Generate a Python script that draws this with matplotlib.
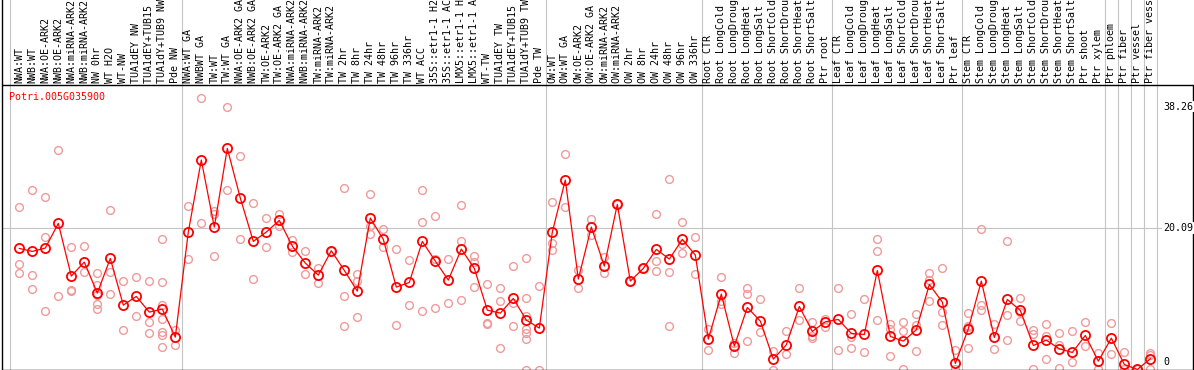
import matplotlib
matplotlib.use('Agg')
import matplotlib.pyplot as plt

gene = "Potri.005G035900"

labels = [
    "NWA:WT", "NWB:WT", "NWA:OE-ARK2", "NWB:OE-ARK2", "NWA:miRNA-ARK2", "NWB:miRNA-ARK2",
    "NW 0hr", "WT H2O", "WT-NW", "TUA1dEY NW", "TUA1dEY+TUB15 NW", "TUA1dY+TUB9 NW", "Pde NW",
    "NWA:WT GA", "NWBWT GA", "TW:WT", "TW:WT GA", "NWA:OE-ARK2 GA", "NWB:OE-ARK2 GA",
    "TW:OE-ARK2", "TW:OE-ARK2 GA", "NWA:miRNA-ARK2 GA", "NWB:miRNA-ARK2 GA", "TW:miRNA-ARK2",
    "TW:miRNA-ARK2 GA", "TW 2hr", "TW 8hr", "TW 24hr", "TW 48hr", "TW 96hr", "TW 336hr",
    "WT ACC", "35S::etr1-1 H2O", "35S::etr1-1 ACC", "LMX5::etr1-1 H2O", "LMX5::etr1-1 ACC",
    "WT-TW", "TUA1dEY TW", "TUA1dEY+TUB15 TW", "TUA1dY+TUB9 TW", "Pde TW",
    "OW:WT", "OW:WT GA", "OW:OE-ARK2", "OW:OE-ARK2 GA", "OW:miRNA-ARK2", "OW:miRNA-ARK2 GA",
    "OW 2hr", "OW 8hr", "OW 24hr", "OW 48hr", "OW 96hr", "OW 336hr",
    "Root CTR", "Root LongCold", "Root LongDrought", "Root LongHeat", "Root LongSalt",
    "Root ShortCold", "Root ShortDrought", "Root ShortHeat", "Root ShortSalt", "Ptr root",
    "Leaf CTR", "Leaf LongCold", "Leaf LongDrought", "Leaf LongHeat", "Leaf LongSalt",
    "Leaf ShortCold", "Leaf ShortDrought", "Leaf ShortHeat", "Leaf ShortSalt", "Ptr leaf",
    "Stem CTR", "Stem LongCold", "Stem LongDrought", "Stem LongHeat", "Stem LongSalt",
    "Stem ShortCold", "Stem ShortDrought", "Stem ShortHeat", "Stem ShortSalt", "Ptr shoot",
    "Ptr xylem", "Ptr phloem", "Ptr fiber", "Ptr vessel", "Ptr fiber vessel",
]

# mean expression per sample
means = [
    17.03, 16.58, 17.08, 20.78, 12.88, 14.98, 10.33, 15.53, 8.53, 9.83, 7.48, 7.93, 3.73,
    19.48, 30.28, 20.23, 32.03, 24.58, 18.08, 19.48, 21.23, 17.38, 14.83, 13.03, 16.68,
    13.73, 10.63, 21.58, 18.38, 11.23, 11.93, 18.08, 15.13, 12.28, 16.93, 14.03, 7.78,
    7.33, 9.53, 6.28, 5.08,
    19.48, 27.28, 12.43, 20.23, 14.38, 23.63, 12.13, 14.03, 16.88, 15.43, 18.38, 16.03,
    3.43, 10.18, 2.38, 8.18, 6.13, 0.43, 2.58, 8.33, 4.58, 6.03,
    6.38, 4.28, 4.13, 13.73, 3.83, 3.13, 4.83, 11.63, 8.98, -0.22,
    4.98, 12.13, 3.68, 9.38, 7.73, 2.48, 3.28, 1.98, 1.43, 3.98, 0.13,
    3.58, -0.37, -1.12, 0.48,
]

# replicate values per sample
reps = [
    [23.23, 14.68, 13.33], [25.78, 13.03, 10.88], [24.73, 18.73, 7.63], [31.78, 9.83],
    [17.23, 10.78, 10.63], [17.38, 13.48], [13.33, 11.53, 10.03, 8.68, 7.93],
    [22.78, 13.48, 10.18], [12.13, 4.78], [12.73, 6.88], [12.13, 5.98, 4.33],
    [18.43, 11.98, 8.53, 6.43, 4.48, 4.03, 2.23], [4.78, 2.48],
    [23.38, 15.43], [39.58, 20.83], [22.63, 22.18, 15.88], [38.23, 25.78], [30.88, 18.43],
    [23.83, 12.43], [21.58, 17.23], [22.18, 20.38], [18.28, 16.48], [16.58, 13.18],
    [14.08, 11.83], [16.68], [26.08, 9.88, 5.38], [13.18, 12.13, 6.68],
    [25.18, 20.38, 19.18], [19.93, 17.18], [16.93, 5.53], [15.28, 8.53],
    [25.78, 20.98, 7.63], [21.88, 15.43, 8.08], [15.43, 8.83], [23.53, 18.13, 9.28],
    [15.88, 14.98, 11.23], [11.68, 5.83, 5.68], [11.08, 9.13, 2.08], [14.38, 8.83, 5.38],
    [15.58, 9.58, 6.88, 4.93, 4.33, 3.43, -1.22], [11.38, -1.22],
    [23.98, 17.83, 16.78], [31.18, 23.23], [13.78, 11.08], [21.43, 19.03], [15.73, 13.33],
    [23.63], [12.13], [14.03], [22.18, 15.13, 13.63], [27.43, 13.48, 5.38],
    [20.98, 17.68, 16.33], [18.73, 13.18],
    [4.93, 1.78], [12.73, 9.13, 8.68], [2.78, 1.28], [11.08, 10.13, 3.13], [9.38, 4.43],
    [1.63, -1.22], [4.68, 1.13], [11.08, 6.28], [5.98, 3.88, 3.58], [6.43, 5.23],
    [11.08, 1.78], [7.18, 3.68, 2.03], [9.43, 1.48], [18.43, 16.58, 6.28], [5.63, 4.98, 0.88],
    [5.93, 4.58, -1.12], [7.13, 5.53, 1.58], [13.33, 12.28, 9.13], [14.03, 7.48, 5.53],
    [1.73, -1.12],
    [7.28, 5.33, 5.18, 2.13], [19.88, 8.48, 7.78], [5.63, 1.98], [18.08, 6.98, 3.23],
    [9.53, 7.43, 6.08], [4.73, 4.13, -1.12], [5.63, 3.83, 0.43], [4.33, 2.48, -0.97],
    [4.63, -0.07], [5.93, 2.33], [1.28, -1.12],
    [5.78, 1.13], [1.43, -1.12], [-1.12], [1.28, 1.03, -1.12],
]

# group separators (between sample columns)
separators = [-0.72, 12.5, 40.5, 52.5, 62.5, 72.5, 83.5, 84.5, 85.5, 86.5, 87.5]
ytick_vals = [38.26, 20.09, 0]
ytick_text = ["38.26", "20.09", "0"]

mono = "DejaVu Sans Mono"
fs = 7.2
x = list(range(len(labels)))

fig = plt.figure(figsize=(11.94, 3.70), dpi=100)
ax = fig.add_axes([1.5 / 1194, 0.5 / 370, 1192 / 1194, 369.5 / 370])
ax.set_xlim(-1.369, 90.32)
ax.set_ylim(-1.124, 54.27)
top_v = 41.53

for s in ["top", "right"]:
    ax.spines[s].set_visible(False)
for s in ["left", "bottom"]:
    ax.spines[s].set_color("black")
    ax.spines[s].set_linewidth(1.0)
ax.set_xticks([])
ax.set_yticks([])

# grid lines
ax.vlines(separators, -2, 60, color="#c4c4c4", lw=0.8, zorder=0)
ax.hlines(20.09, -1.369, 90.32, color="#c4c4c4", lw=0.8, zorder=0)
# plot frame
ax.hlines(top_v, -1.369, 90.32, color="black", lw=1.0, zorder=5)
ax.vlines(90.28, -1.2, top_v, color="black", lw=1.0, zorder=5, clip_on=False)

# replicates
rx, ry = [], []
for i, vals in enumerate(reps):
    for v in vals:
        rx.append(i)
        ry.append(v)
ax.plot(rx, ry, "o", mfc="none", mec="#f09a9a", ms=5.6, mew=1.0, zorder=2)

# means
ax.plot(x, means, "-", color="red", lw=0.9, zorder=3)
ax.plot(x, means, "o", mfc="none", mec="red", ms=6.6, mew=1.3, zorder=4)

# sample labels
for i, lab in enumerate(labels):
    ax.text(i, 41.83, lab, rotation=90, ha="center", va="bottom",
            fontsize=fs, family=mono, clip_on=False)

ax.text(-0.79, 39.73, gene, color="red", ha="left", va="center", fontsize=fs, family=mono)

for v, t in zip(ytick_vals, ytick_text):
    ax.text(87.98, v, t, ha="left", va="center", fontsize=fs, family=mono, zorder=6,
            bbox=dict(facecolor="white", edgecolor="none", pad=0.5))

fig.savefig("out.png", dpi=100)
